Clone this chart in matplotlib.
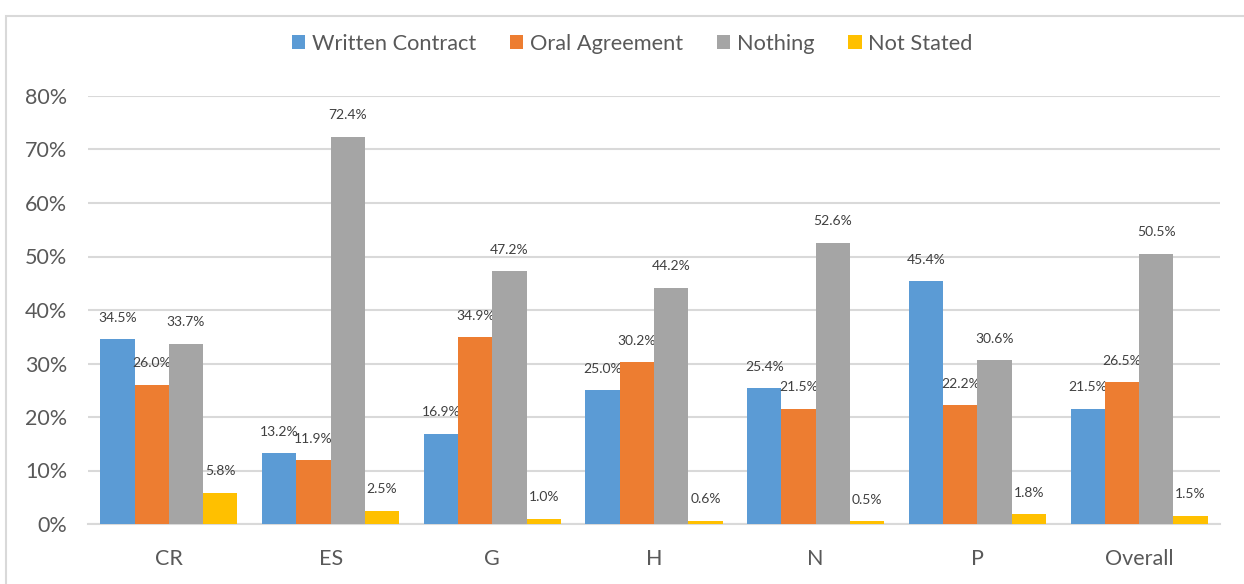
import numpy as np
import matplotlib.pyplot as plt
from matplotlib.patches import Rectangle

# data
categories = ['CR', 'ES', 'G', 'H', 'N', 'P', 'Overall']
written = [34.5, 13.2, 16.9, 25.0, 25.4, 45.4, 21.5]
oral = [26.0, 11.9, 34.9, 30.2, 21.5, 22.2, 26.5]
nothing = [33.7, 72.4, 47.2, 44.2, 52.6, 30.6, 50.5]
not_stated = [5.8, 2.5, 1.0, 0.6, 0.5, 1.8, 1.5]

series = [('Written Contract', written, '#5B9BD5'),
          ('Oral Agreement', oral, '#ED7D31'),
          ('Nothing', nothing, '#A5A5A5'),
          ('Not Stated', not_stated, '#FFC000')]

plt.rcParams['font.family'] = ['Lato', 'DejaVu Sans']
textcol = '#595959'
gridcol = '#D9D9D9'

W, H = 1244, 584
fig = plt.figure(figsize=(W/100, H/100), dpi=100)

# chart frame (left and top edges visible)
fig.patches.append(Rectangle((6/W, -0.1), 1.2, 1 - 16/H + 0.1, transform=fig.transFigure,
                             fill=False, edgecolor=gridcol, lw=1.5))

ax = fig.add_axes([88/W, 1 - 524/H, (1220-88)/W, (524-96)/H])

x = np.arange(len(categories))
bw = 0.212
for i, (name, vals, col) in enumerate(series):
    pos = x + (i - 1.5) * bw
    ax.bar(pos, vals, bw, color=col, label=name, zorder=3)
    for px, v in zip(pos, vals):
        ax.annotate(f'{v:.1f}%', (px, v), xytext=(0, 15.5), textcoords='offset points',
                    ha='center', va='center', fontsize=10, color='#404040')

ax.set_xlim(-0.5, len(categories) - 0.5)
ax.set_ylim(0, 80)
ax.set_yticks(np.arange(0, 81, 10))
ax.set_yticklabels([f'{t}%' for t in range(0, 81, 10)])
ax.set_xticks(x)
ax.set_xticklabels(categories)
ax.tick_params(axis='both', length=0, labelsize=15.5, colors=textcol)
ax.tick_params(axis='y', pad=15)
ax.tick_params(axis='x', pad=18)
ax.grid(axis='y', color=gridcol, lw=1.5, zorder=0)
for s in ['top', 'right', 'left']:
    ax.spines[s].set_visible(False)
ax.spines['bottom'].set_color(gridcol)
ax.spines['bottom'].set_linewidth(1.5)

handles, labels = ax.get_legend_handles_labels()
leg = fig.legend(handles, labels, loc='center', bbox_to_anchor=(632/W, 1 - 44/H), ncol=4,
                 frameon=False, fontsize=15.7, handlelength=0.62, handleheight=0.62,
                 handletextpad=0.3, columnspacing=1.55)
for t in leg.get_texts():
    t.set_color(textcol)

fig.savefig('out.png', dpi=100)
